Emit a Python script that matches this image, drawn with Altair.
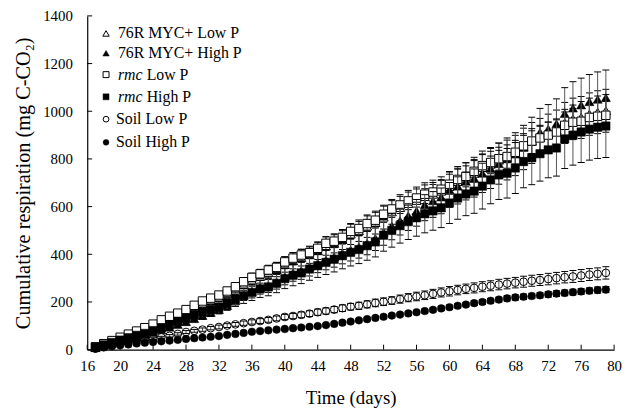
import altair as alt
import pandas as pd

days = list(range(17, 80))
x_ticks = list(range(16, 81, 4))
y_ticks = list(range(0, 1401, 200))

# 76R MYC+ Low P (open triangle)
myc_low = [10, 22, 35, 48, 60, 73, 86, 100, 116, 131, 145, 160, 176, 193, 206, 220,
           236, 254, 274, 292, 307, 323, 336, 357, 373, 386, 398, 415, 435, 446, 462,
           485, 499, 518, 533, 556, 578, 596, 613, 626, 642, 652, 665, 685, 705, 719,
           740, 764, 778, 795, 806, 825, 852, 874, 890, 906, 922, 951, 968, 974, 988,
           996, 1002]
myc_low_err = [1, 2, 3, 4, 5, 7, 8, 9, 10, 12, 13, 14, 16, 17, 19, 20, 21, 23, 25, 26,
               28, 29, 30, 32, 34, 35, 36, 37, 39, 40, 42, 44, 45, 47, 48, 50, 52, 54,
               55, 56, 58, 59, 60, 62, 63, 65, 67, 69, 70, 72, 73, 74, 77, 79, 80, 82,
               83, 86, 87, 88, 89, 90, 90]

# 76R MYC+ High P (filled triangle)
myc_high = [8, 18, 27, 36, 45, 54, 63, 72, 83, 94, 105, 117, 130, 143, 156, 168, 185,
            205, 231, 244, 262, 270, 285, 306, 322, 331, 347, 363, 376, 389, 405, 418,
            431, 447, 467, 492, 518, 541, 562, 582, 608, 624, 640, 671, 686, 706, 719,
            740, 760, 780, 800, 820, 848, 878, 912, 926, 948, 990, 1013, 1026, 1040,
            1050, 1057]
myc_high_err = [1, 2, 3, 4, 5, 6, 7, 8, 9, 10, 12, 13, 14, 16, 17, 18, 20, 23, 25, 27,
                29, 30, 31, 34, 35, 36, 38, 40, 41, 43, 45, 46, 47, 49, 51, 54, 57, 60,
                62, 64, 67, 69, 70, 74, 75, 78, 79, 81, 84, 86, 88, 90, 93, 97, 100, 102,
                104, 109, 111, 113, 114, 115, 116]

# rmc Low P (open square)
rmc_low = [12, 25, 38, 52, 65, 78, 92, 107, 125, 140, 153, 168, 186, 204, 216, 229,
           246, 264, 285, 303, 318, 334, 345, 368, 384, 397, 407, 425, 446, 455, 471,
           496, 508, 529, 543, 568, 590, 607, 624, 636, 652, 661, 673, 694, 714, 727,
           748, 772, 785, 801, 810, 828, 855, 875, 888, 900, 913, 941, 954, 958, 974,
           979, 983]
rmc_low_err = [1, 1, 2, 3, 4, 4, 5, 6, 7, 8, 9, 10, 11, 12, 13, 14, 15, 16, 17, 18, 19,
               20, 21, 22, 23, 24, 24, 25, 27, 27, 28, 30, 30, 32, 33, 34, 35, 36, 37,
               38, 39, 40, 40, 42, 43, 44, 45, 46, 47, 48, 49, 50, 51, 52, 53, 54, 55,
               56, 57, 57, 58, 59, 59]

# rmc High P (filled square)
rmc_high = [10, 20, 30, 40, 50, 60, 68, 80, 92, 105, 118, 132, 145, 157, 168, 178, 195,
            212, 226, 240, 255, 263, 278, 298, 312, 322, 338, 352, 366, 379, 394, 408,
            420, 436, 452, 480, 500, 520, 537, 553, 570, 582, 595, 615, 636, 653, 665,
            686, 712, 733, 740, 762, 789, 805, 822, 838, 846, 884, 900, 913, 925, 933,
            938]
rmc_high_err = [2, 3, 4, 6, 7, 8, 10, 11, 13, 15, 17, 18, 20, 22, 24, 25, 27, 30, 32,
                34, 36, 37, 39, 42, 44, 45, 47, 49, 51, 53, 55, 57, 59, 61, 63, 67, 70,
                73, 75, 77, 80, 81, 83, 86, 89, 91, 93, 96, 100, 103, 104, 107, 110, 113,
                115, 117, 118, 124, 126, 128, 130, 131, 132]

# Soil Low P (open circle)
soil_low = [5, 12, 19, 25, 31, 36, 41, 46, 52, 58, 66, 74, 79, 84, 90, 95, 101, 106,
            111, 116, 120, 125, 131, 137, 141, 146, 151, 157, 162, 168, 174, 180, 184,
            190, 196, 201, 206, 212, 218, 223, 228, 234, 240, 245, 250, 255, 259, 264,
            268, 273, 277, 281, 285, 289, 292, 296, 300, 304, 307, 311, 315, 318, 322]
soil_low_err = [0, 1, 1, 2, 2, 3, 3, 4, 4, 5, 5, 6, 6, 7, 7, 8, 8, 8, 9, 9, 10, 10, 10,
                11, 11, 12, 12, 13, 13, 13, 14, 14, 15, 15, 16, 16, 16, 17, 17, 18, 18,
                19, 19, 20, 20, 20, 21, 21, 21, 22, 22, 22, 23, 23, 23, 24, 24, 24, 25,
                25, 25, 25, 26]

# Soil High P (filled circle)
soil_high = [4, 9, 14, 18, 22, 26, 29, 32, 35, 38, 41, 45, 48, 51, 54, 57, 62, 66, 70,
             75, 78, 81, 84, 87, 90, 93, 96, 99, 103, 108, 113, 118, 123, 128, 133, 138,
             143, 147, 152, 157, 162, 167, 173, 178, 184, 189, 195, 200, 205, 210, 215,
             219, 222, 225, 228, 232, 235, 238, 241, 244, 247, 250, 252]
soil_high_err = [0, 0, 1, 1, 1, 1, 1, 2, 2, 2, 2, 2, 2, 3, 3, 3, 3, 3, 4, 4, 4, 4, 4, 4,
                 5, 5, 5, 5, 5, 5, 6, 6, 6, 6, 7, 7, 7, 7, 8, 8, 8, 8, 9, 9, 9, 9, 10,
                 10, 10, 10, 11, 11, 11, 11, 11, 12, 12, 12, 12, 12, 12, 13, 13]

series = [
    ("76R MYC+ Low P", myc_low, myc_low_err, "triangle-up", "open"),
    ("76R MYC+ High P", myc_high, myc_high_err, "triangle-up", "filled"),
    ("rmc Low P", rmc_low, rmc_low_err, "square", "open"),
    ("rmc High P", rmc_high, rmc_high_err, "square", "filled"),
    ("Soil Low P", soil_low, soil_low_err, "circle", "hollow"),
    ("Soil High P", soil_high, soil_high_err, "circle", "filled"),
]

FONT = "Liberation Serif"
W, H = 532, 337
xscale = alt.Scale(domain=[16, 80], nice=False, zero=False)
yscale = alt.Scale(domain=[0, 1400], nice=False)
x_axis = alt.Axis(values=x_ticks, ticks=False, labelPadding=9, format="d",
                  title="Time (days)", titlePadding=15, grid=False, labelFlush=False)
y_axis = alt.Axis(values=y_ticks, ticks=False, labelPadding=15, format="d",
                  title="Cumulative respiration (mg C-CO\u2082)",
                  titleFontSize=20.5, titlePadding=9, grid=False)

plot_sizes = {"triangle-up": 85, "square": 72, "circle": 60}
leg_sizes = {"triangle-up": 42, "square": 36, "circle": 34}


def X(field):
    return alt.X(field, scale=xscale, axis=x_axis)


def Y(field):
    return alt.Y(field, scale=yscale, axis=y_axis)


def point_mark(shape, style, size):
    if style == "open":
        return dict(shape=shape, filled=True, fill="white", stroke="black",
                    strokeWidth=1, size=size, opacity=1)
    if style == "hollow":
        return dict(shape=shape, filled=False, stroke="black", color="black",
                    strokeWidth=1, size=size, opacity=1)
    return dict(shape=shape, filled=True, fill="black", stroke="black",
                strokeWidth=0.5, size=size, opacity=1)


layers = []

# inward tick marks
xt = pd.DataFrame({"t": x_ticks})
yt = pd.DataFrame({"t": y_ticks})
layers.append(
    alt.Chart(xt).mark_rule(color="black", strokeWidth=1).encode(
        x=X("t:Q"), y=alt.value(H), y2=alt.value(H - 5))
)
layers.append(
    alt.Chart(yt).mark_rule(color="black", strokeWidth=1).encode(
        y=Y("t:Q"), x=alt.value(0), x2=alt.value(5))
)

for name, vals, errs, shape, style in series:
    df = pd.DataFrame({
        "day": days,
        "v": vals,
        "lo": [v - e for v, e in zip(vals, errs)],
        "hi": [v + e for v, e in zip(vals, errs)],
    })
    base = alt.Chart(df)
    layers.append(
        base.mark_rule(color="#555555", strokeWidth=1).encode(
            x=X("day:Q"), y=Y("lo:Q"), y2="hi:Q")
    )
    for col in ("lo", "hi"):
        layers.append(
            base.mark_tick(orient="horizontal", size=7, thickness=1,
                           color="black", opacity=1).encode(
                x=X("day:Q"), y=Y(col + ":Q"))
        )
    layers.append(
        base.mark_point(**point_mark(shape, style, plot_sizes[shape])).encode(
            x=X("day:Q"), y=Y("v:Q"))
    )

# custom legend (top-left inside the plot)
one = pd.DataFrame({"k": [0]})
leg_rows = [17.7, 37.7, 59.3, 81.7, 104.3, 127.7]
for i, (name, vals, errs, shape, style) in enumerate(series):
    yy = leg_rows[i]
    layers.append(
        alt.Chart(one).mark_point(**point_mark(shape, style, leg_sizes[shape])).encode(
            x=alt.value(19), y=alt.value(yy))
    )
    if name.startswith("rmc"):
        layers.append(
            alt.Chart(one).mark_text(text="rmc", align="left", baseline="middle",
                                     font=FONT, fontSize=16, fontStyle="italic",
                                     color="black").encode(
                x=alt.value(31), y=alt.value(yy))
        )
        layers.append(
            alt.Chart(one).mark_text(text=name[4:], align="left", baseline="middle",
                                     font=FONT, fontSize=16, color="black").encode(
                x=alt.value(60), y=alt.value(yy))
        )
    else:
        layers.append(
            alt.Chart(one).mark_text(text=name, align="left", baseline="middle",
                                     font=FONT, fontSize=16, color="black").encode(
                x=alt.value(29 if name.startswith("Soil") else 31), y=alt.value(yy))
        )

chart = alt.layer(*layers).properties(
    width=W, height=H,
    autosize=alt.AutoSizeParams(type="none"),
    padding={"left": 80, "top": 6, "right": 10, "bottom": 62},
).configure_view(stroke=None).configure_axis(
    domainColor="black", domainWidth=1.2,
    labelFont=FONT, labelFontSize=15, labelColor="black",
    titleFont=FONT, titleFontSize=19, titleFontWeight="normal", titleColor="black",
)

chart.save("out.html", embed_options={"renderer": "svg", "actions": False})
